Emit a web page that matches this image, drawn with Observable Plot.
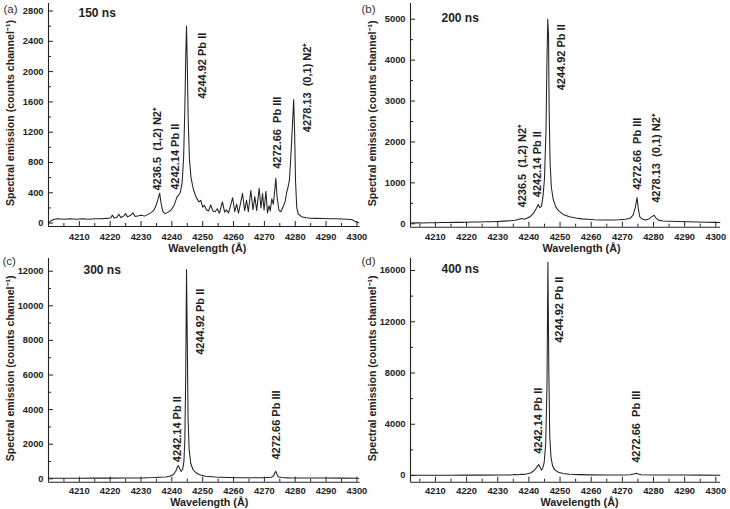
<!DOCTYPE html>
<html><head><meta charset="utf-8">
<script src="https://cdn.jsdelivr.net/npm/d3@7"></script>
<script src="https://cdn.jsdelivr.net/npm/@observablehq/plot@0.6"></script>
<style>
body{margin:0;background:#fff;}
#fig{position:relative;width:730px;height:509px;overflow:hidden;background:#fff;}
#fig > div{position:absolute;}
</style></head><body><div id="fig"></div>
<script>
// ---- tick values ----
const xMajor = [4210, 4220, 4230, 4240, 4250, 4260, 4270, 4280, 4290, 4300];
const xMinor = [4205, 4215, 4225, 4235, 4245, 4255, 4265, 4275, 4285, 4295];
const yMajorA = [0, 400, 800, 1200, 1600, 2000, 2400, 2800];
const yMinorA = [200, 600, 1000, 1400, 1800, 2200, 2600];
const yMajorB = [0, 1000, 2000, 3000, 4000, 5000];
const yMinorB = [500, 1500, 2500, 3500, 4500];
const yMajorC = [0, 2000, 4000, 6000, 8000, 10000, 12000];
const yMinorC = [1000, 3000, 5000, 7000, 9000, 11000];
const yMajorD = [0, 4000, 8000, 12000, 16000];
const yMinorD = [2000, 6000, 10000, 14000];

// ---- (a) 150 ns spectrum ----
const wlA = [4200.0,4200.8,4201.8,4203,4205,4207,4209,4211,4213,4215,4217,4219,4220.2,4220.7,4221.3,4222.2,4222.8,4223.4,4224.3,4225.0,4225.6,4226.5,4227.4,4228.1,4229.2,4230.2,4231.1,4232.1,4233.1,4234.1,4234.9,4235.6,4236.05,4236.5,4237.1,4237.8,4238.8,4239.8,4240.8,4241.6,4242.1,4242.7,4243.3,4243.8,4244.2,4244.5,4244.75,4245.0,4245.3,4245.7,4246.2,4247.0,4248.0,4248.8,4249.4,4250.0,4250.5,4251.2,4251.9,4252.6,4253.3,4254.0,4254.7,4255.4,4256.4,4257.1,4257.7,4258.4,4259.7,4260.4,4261.0,4261.6,4262.9,4263.6,4264.2,4264.8,4265.6,4266.3,4266.9,4267.5,4268.3,4268.9,4269.4,4269.9,4270.5,4271.0,4271.5,4271.9,4272.4,4272.9,4273.4,4273.7,4274.1,4274.7,4275.3,4276.0,4276.7,4277.2,4277.7,4278.1,4278.6,4279.1,4279.5,4279.8,4280.1,4280.5,4281.0,4282,4283.5,4285,4287,4289,4291,4293,4295,4297,4298.5,4299.5,4300.6];
const intA = [0,30,50,58,52,58,52,57,52,58,56,62,70,105,68,78,118,75,90,125,82,100,135,88,96,105,92,112,135,165,235,330,395,260,150,125,145,175,240,340,365,400,520,850,1500,2200,2600,2100,1350,850,600,440,330,280,300,210,235,175,160,240,160,150,190,130,280,145,175,135,335,150,250,130,390,165,300,150,430,175,350,165,460,200,390,170,420,135,230,160,320,250,450,590,350,170,150,210,280,400,480,560,900,1300,1630,1200,550,200,120,85,70,65,62,60,58,56,55,52,45,20,5];

// ---- (b) 200 ns spectrum ----
const wlB = [4202,4204,4206,4208,4210,4212,4214,4216,4218,4220,4222,4224,4226,4228,4230,4232,4234,4235.5,4236.5,4237.6,4238.5,4239.5,4240.5,4241.5,4242.4,4243.0,4243.5,4244.0,4244.5,4245.0,4245.5,4245.8,4246.05,4246.3,4246.5,4246.8,4247.2,4247.8,4248.6,4249.5,4251,4253,4255,4257,4259,4261,4263,4265,4267,4269,4271,4272.5,4273.5,4274.2,4274.7,4275.1,4275.6,4276.5,4277.5,4278.5,4279.4,4280.2,4280.8,4281.6,4283,4285,4288,4291,4294,4297,4299.5,4301.3];
const intB = [20,25,22,28,25,30,30,35,35,40,42,45,48,52,58,65,75,85,105,130,110,140,180,260,380,470,400,420,650,1100,2300,4000,5000,4600,2800,1500,900,600,420,320,230,170,140,120,110,100,95,95,95,100,110,135,220,420,640,380,170,110,95,120,170,210,140,90,70,62,55,50,45,40,35,30];

// ---- (c) 300 ns spectrum ----
const wlC = [4200,4205,4210,4215,4220,4225,4230,4234,4236,4238,4239.5,4240.5,4241.3,4241.8,4242.1,4242.5,4243.0,4243.5,4243.9,4244.2,4244.5,4244.75,4245.0,4245.25,4245.6,4246.1,4246.8,4247.8,4249,4251,4254,4258,4262,4266,4270,4272.3,4273.0,4273.4,4273.7,4274.0,4274.5,4275.5,4278,4282,4286,4290,4295,4300.6];
const intC = [30,35,35,40,40,45,50,70,90,110,160,250,450,700,760,600,430,550,1000,2200,6000,12100,8000,3500,1700,900,550,350,230,150,100,75,65,60,65,90,180,350,430,300,120,70,55,50,45,45,40,35];

// ---- (d) 400 ns spectrum ----
const wlD = [4202,4206,4210,4215,4220,4225,4230,4234,4235.5,4236.5,4237.5,4238.5,4239.5,4240.5,4241.5,4242.4,4243.1,4243.5,4244.0,4244.4,4244.9,4245.4,4245.8,4246.1,4246.4,4246.7,4247.1,4247.6,4248.4,4249.5,4251,4253,4256,4260,4265,4270,4272.5,4273.8,4274.5,4275.1,4276,4280,4285,4290,4295,4301.3];
const intD = [20,20,25,25,30,30,35,45,80,60,90,80,130,200,350,600,850,700,420,550,1000,2500,7000,16650,8000,3000,1400,750,420,250,150,100,70,50,45,45,60,110,180,110,60,45,40,35,30,25];

// ---- annotations ----
const labA = ["4236.5\u00a0\u00a0(1,2) N2\u207a", "4242.14 Pb II", "4244.92 Pb II", "4272.66\u00a0\u00a0Pb III", "4278.13\u00a0\u00a0(0,1) N2\u207a"];
const labAx = [4235.4, 4241.3, 4250.0, 4274.3, 4284.1];
const labAy = [430, 440, 1641, 717, 1200];
const labB = ["4236.5\u00a0\u00a0(1,2) N2\u207a", "4242.14 Pb II", "4244.92 Pb II", "4272.66\u00a0\u00a0Pb III", "4278.13\u00a0\u00a0(0,1) N2\u207a"];
const labBx = [4237.9, 4242.8, 4250.4, 4274.9, 4280.9];
const labBy = [400, 651, 3262, 832, 514];
const labC = ["4242.14 Pb II", "4244.92 Pb II", "4272.66 Pb III"];
const labCx = [4241.7, 4249.4, 4274.05];
const labCy = [960, 7168, 1116];
const labD = ["4242.14 Pb II", "4244.92 Pb II", "4272.66\u00a0\u00a0Pb III"];
const labDx = [4243.0, 4249.8, 4274.5];
const labDy = [1694, 10359, 991];

const panels = [
  {tag: "(a)", time: "150 ns", left: 0, top: 0, width: 365, height: 255, m: [3, 5.5, 29, 48],
   xd: [4200, 4301], yd: [-45, 2899], wl: wlA, I: intA, yMaj: yMajorA, yMin: yMinorA,
   lab: labA, lx: labAx, ly: labAy, tdx: 30, tdy: 5.3, pdx: -45, pdy: 1.5, xlx: 3, xly: 22, tp: 6.5},
  {tag: "(b)", time: "200 ns", left: 358, top: 0, width: 372, height: 255, m: [3, 10, 28.3, 52],
   xd: [4202, 4301.5], yd: [-83, 5384], wl: wlB, I: intB, yMaj: yMajorB, yMin: yMinorB,
   lab: labB, lx: labBx, ly: labBy, tdx: 31, tdy: 10.3, pdx: -49, pdy: 1.5, xlx: 16, xly: 21.5, tp: 6.5},
  {tag: "(c)", time: "300 ns", left: 0, top: 255, width: 365, height: 254, m: [3, 5.5, 27.3, 48],
   xd: [4200, 4301], yd: [-196, 12734], wl: wlC, I: intC, yMaj: yMajorC, yMin: yMinorC,
   lab: labC, lx: labCx, ly: labCy, tdx: 35, tdy: 7, pdx: -46, pdy: -2, xlx: 5, xly: 20.6, tp: 5},
  {tag: "(d)", time: "400 ns", left: 358, top: 255, width: 372, height: 254, m: [3, 10, 27.3, 52],
   xd: [4202, 4301.5], yd: [-523, 16937], wl: wlD, I: intD, yMaj: yMajorD, yMin: yMinorD,
   lab: labD, lx: labDx, ly: labDy, tdx: 31, tdy: 6.3, pdx: -49, pdy: -2, xlx: 14, xly: 20.6, tp: 5}
];

const ink = "#222";
const fig = document.getElementById("fig");
for (const p of panels) {
  const [mt, mr, mb, ml] = p.m;
  const fw = p.width - ml - mr, fh = p.height - mt - mb;
  const spec = p.wl.map((w, i) => ({w, v: p.I[i]}));
  const ann = p.lab.map((t, i) => ({t, x: p.lx[i], y: p.ly[i]}));
  const svg = Plot.plot({
    width: p.width, height: p.height,
    marginTop: mt, marginRight: mr, marginBottom: mb, marginLeft: ml,
    style: {background: "transparent", overflow: "visible", fontFamily: "'Liberation Sans', Arial, sans-serif", color: ink, fontWeight: "bold"},
    x: {domain: p.xd},
    y: {domain: p.yd},
    marks: [
      Plot.axisX(xMajor, {tickSize: 0, tickPadding: p.tp, fontSize: 9.3, fontWeight: "bold", tickFormat: d => String(d), label: null}),
      Plot.axisY(p.yMaj, {tickSize: 0, tickPadding: 5, fontSize: 9.3, fontWeight: "bold", tickFormat: d => String(d), label: null}),
      Plot.ruleX(xMajor, {x: d => d, insetTop: fh - 5, stroke: ink}),
      Plot.ruleX(xMinor, {x: d => d, insetTop: fh - 3, stroke: ink}),
      Plot.ruleY(p.yMaj, {y: d => d, insetRight: fw - 5, stroke: ink}),
      Plot.ruleY(p.yMin, {y: d => d, insetRight: fw - 3, stroke: ink}),
      Plot.ruleX([p.xd[0]], {stroke: ink, strokeWidth: 1.1}),
      Plot.ruleY([p.yd[0]], {stroke: ink, strokeWidth: 1.1}),
      Plot.line(spec, {x: "w", y: "v", stroke: ink, strokeWidth: 1.05}),
      Plot.text(ann, {x: "x", y: "y", text: "t", rotate: -90, textAnchor: "start", lineAnchor: "middle", fontSize: 11, fontWeight: "bold", fill: ink}),
      Plot.text([p.time], {frameAnchor: "top-left", dx: p.tdx, dy: p.tdy, textAnchor: "start", lineAnchor: "top", fontSize: 12, fontWeight: "bold", fill: ink}),
      Plot.text([p.tag], {frameAnchor: "top-left", dx: p.pdx, dy: p.pdy, textAnchor: "start", lineAnchor: "top", fontSize: 11.5, fontWeight: "normal", fill: "#333"}),
      Plot.text(["Wavelength (\u00c5)"], {frameAnchor: "bottom", dx: p.xlx, dy: p.xly, textAnchor: "middle", lineAnchor: "middle", fontSize: 10.8, fontWeight: "bold", fill: ink}),
      Plot.text(["Spectral emission (counts channel\u207b\u00b9)"], {frameAnchor: "left", dx: -38, dy: -2, rotate: -90, textAnchor: "middle", lineAnchor: "middle", fontSize: 10.6, fontWeight: "bold", fill: ink})
    ]
  });
  const wrap = document.createElement("div");
  wrap.style.left = p.left + "px";
  wrap.style.top = p.top + "px";
  wrap.appendChild(svg);
  fig.appendChild(wrap);
}
</script>
</body></html>
